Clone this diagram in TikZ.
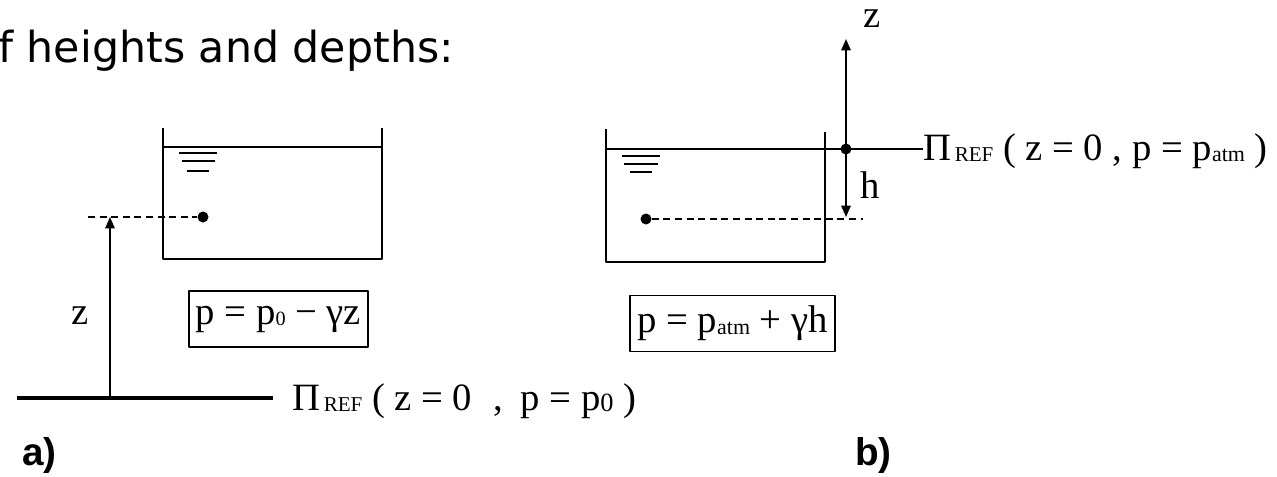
\documentclass[tikz,border=0pt]{standalone}
\usepackage{fontspec}
\setmainfont{Liberation Serif}
\newfontfamily\headfont{DejaVu Sans}
\newfontfamily\tagfont{Liberation Sans}
\usetikzlibrary{arrows.meta}
\newcommand{\lowsub}[2][12]{\raisebox{-1pt}{\fontsize{#1}{#1}\selectfont #2}}

\begin{document}
\begin{tikzpicture}[line join=round, font=\fontsize{22}{26}\selectfont]
  \path[use as bounding box] (0,0) rectangle (25.54,-9.52);
  \fill[white] (0,0) rectangle (25.54,-9.52);
  \tikzset{wall/.style={line width=1.1pt},
    ground/.style={line width=1.9pt},
    level/.style={line width=1.1pt, dash pattern=on 4pt off 2.6pt},
    rise/.style={line width=0.9pt, -{Triangle[length=6.5pt,width=5.4pt]}},
    eqbox/.style={draw, line width=1.1pt, inner xsep=4pt, minimum height=1.12cm},
    ptdot/.style={circle, fill, inner sep=0pt, minimum size=2.2mm},
    txt/.style={inner sep=0pt, anchor=base west}}
  \node[txt, font=\headfont\fontsize{24.3}{28}\selectfont] (title) at (-0.04,-1.24) {f heights and depths:};
  % a) height z above the reference plane
  \draw[wall] (3.26,-2.56) -- (3.26,-5.18) -- (7.64,-5.18) -- (7.64,-2.56);
  \draw[wall] (3.26,-2.94) -- (7.64,-2.94);
  \draw[wall] (3.58,-3.06) -- (4.34,-3.06) (3.64,-3.22) -- (4.30,-3.22) (3.74,-3.42) -- (4.18,-3.42);
  \node[ptdot] (pa) at (4.06,-4.34) {};
  \coordinate (la) at (1.76,-4.34);
  \draw[level] (la) -- (pa);
  \coordinate (ga) at (0.34,-7.96);
  \coordinate (ge) at (5.46,-7.96);
  \draw[ground] (ga) -- (ge);
  \coordinate (za) at (2.20,-7.96);
  \coordinate (zt) at (2.20,-4.34);
  \draw[rise] (za) -- (zt);
  \node[inner sep=0pt] (zlab) at (1.60,-6.32) {z};
  \node[eqbox] (eqa) at (5.57,-6.38) {p = p\lowsub[11.5]{0} − γz};
  \node[txt] (refa) at (5.84,-8.20) {Π\hspace{2pt}\lowsub{REF} ( z = 0\hspace{12pt},\hspace{10pt}p = p\lowsub[15]{0} )};
  \node[txt, font=\tagfont\bfseries\fontsize{22}{26}\selectfont] (taga) at (0.44,-9.30) {a)};
  % b) depth h below the free surface
  \draw[wall] (12.12,-2.58) -- (12.12,-5.24) -- (16.50,-5.24) -- (16.50,-2.64);
  \draw[wall] (12.44,-3.12) -- (13.20,-3.12) (12.48,-3.28) -- (13.16,-3.28) (12.60,-3.44) -- (13.04,-3.44);
  \node[ptdot] (o) at (16.92,-2.98) {};
  \node[txt] (refb) at (18.46,-3.20) {Π\hspace{2pt}\lowsub{REF} ( z = 0 , p = p\lowsub[12.5]{atm} )};
  \coordinate (sb) at (12.12,-2.98);
  \draw[wall] (sb) -- (refb.west |- o.center);
  \node[ptdot] (pb) at (12.92,-4.38) {};
  \coordinate (lb) at (17.26,-4.38);
  \draw[level] (pb) -- (lb);
  \coordinate (zb) at (16.92,-0.78);
  \coordinate (hb) at (16.92,-4.34);
  \draw[rise] (o.center) -- (zb);
  \draw[rise] (o.center) -- (hb);
  \node[inner sep=0pt] (zlabb) at (17.44,-0.38) {z};
  \node[inner sep=0pt] (hlab) at (17.40,-3.70) {h};
  \node[eqbox] (eqb) at (14.65,-6.47) {p = p\lowsub[12.5]{atm} + γh};
  \node[txt, font=\tagfont\bfseries\fontsize{22}{26}\selectfont] (tagb) at (17.10,-9.30) {b)};
\end{tikzpicture}
\end{document}
